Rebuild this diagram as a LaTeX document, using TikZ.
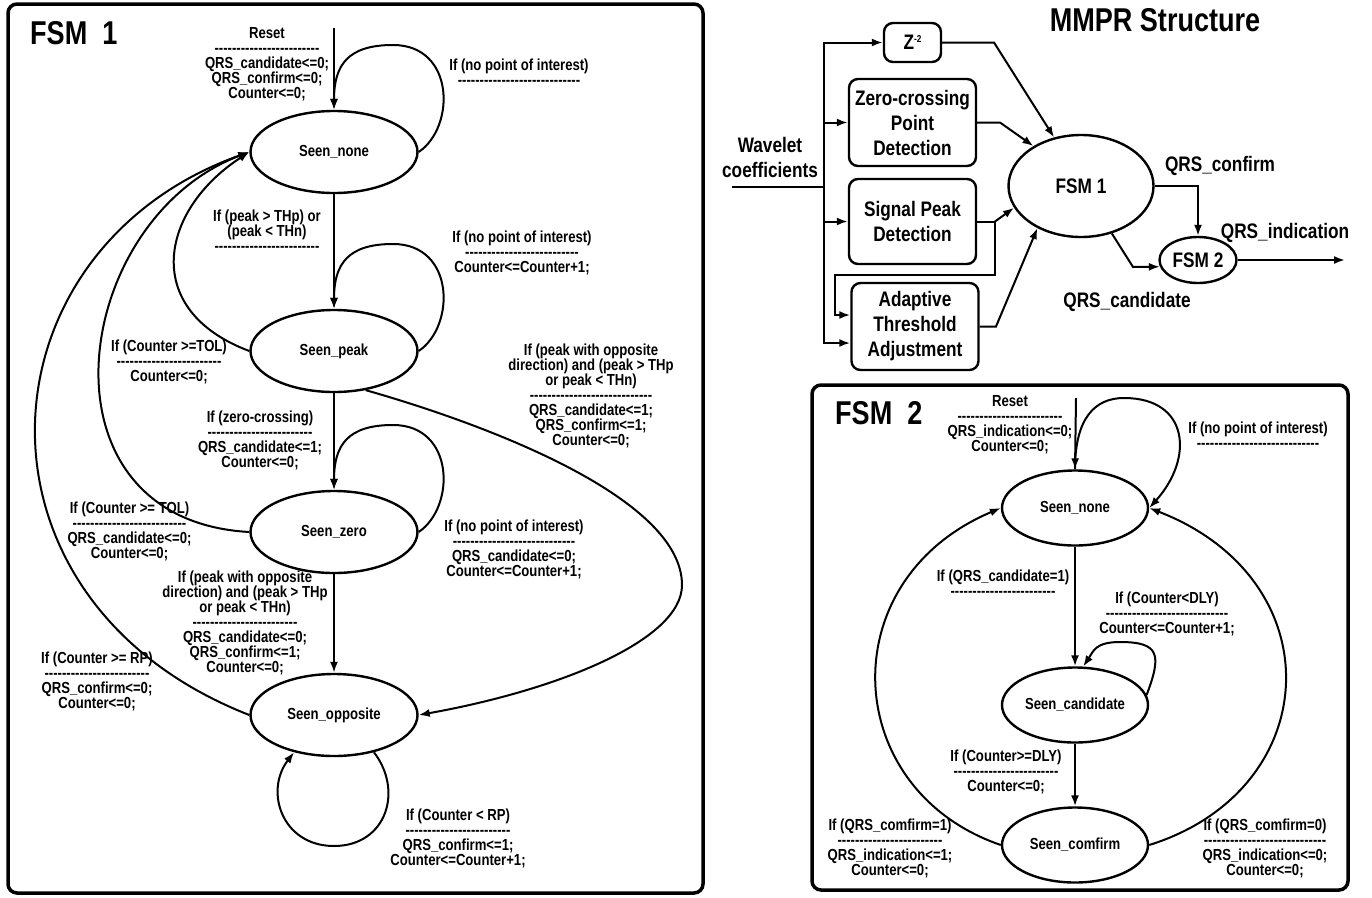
\documentclass[tikz,border=0pt]{standalone}
\usepackage{fontspec}
\setmainfont{Liberation Sans}[FakeStretch=0.82]
\usetikzlibrary{shapes.geometric,arrows.meta}
\newcommand\lblfont{\fontsize{16}{15}\selectfont\bfseries\lineskiplimit=-20pt}
\newcommand\blockfont{\fontsize{21}{25}\selectfont\bfseries\lineskiplimit=-20pt}
\newcommand\titlefont{\fontsize{33}{36}\selectfont\bfseries}
\newcommand\dashes[1]{\foreach \k in {1,...,#1}{-\kern0pt}}
\tikzset{state/.style={ellipse,draw,line width=2.4pt,minimum width=167pt,minimum height=82pt,inner sep=0pt,font=\lblfont},
  sstate/.style={state,minimum width=146pt,minimum height=75pt},
  cond/.style={align=center,inner sep=0pt,font=\lblfont},
  trans/.style={line width=2pt,-{Latex[length=11pt,width=8pt]}},
  wire/.style={line width=2pt},
  block/.style={draw,rounded corners=9pt,line width=2.4pt,align=center,font=\blockfont,inner sep=0pt},
  panel/.style={draw,rounded corners=9pt,line width=3.5pt},
  title/.style={font=\titlefont,anchor=west,inner sep=0pt}}
\begin{document}
\begin{tikzpicture}[x=1pt,y=-1pt]
\useasboundingbox (0,0) rectangle (1372,897);
\draw[panel] (8,4) rectangle (703,893);
\draw[panel] (812,385) rectangle (1348,890);
\node[title] (t1) at (30,33) {FSM\ \ 1};
\node[title] (t2) at (835,413) {FSM\ \ 2};
\node[title,anchor=center] (t3) at (1155,20) {MMPR Structure};
% FSM 1
\node[state] (none1) at (334,152) {Seen\_none};
\node[state] (peak1) at (334,351) {Seen\_peak};
\node[state] (zero1) at (334,532) {Seen\_zero};
\node[state] (opp1) at (334,715) {Seen\_opposite};
\coordinate (rst1) at (334,28);
\draw[trans] (rst1) -- (none1.north);
\foreach \s in {none1,peak1,zero1}
  \draw[trans] (\s.east) .. controls +(37,-25) and +(62,0) .. ([shift={(59,-107)}]\s.center)
    .. controls +(-45,0) and +(0,-45) .. (\s.north);
\draw[trans] (none1) -- (peak1);
\draw[trans] (peak1) -- (zero1);
\draw[trans] (zero1) -- (opp1);
\draw[trans] (peak1.west) .. controls (140,310) and (160,210) .. (none1.west);
\draw[trans] (zero1.west) .. controls (30,520) and (70,220) .. (none1.west);
\draw[trans] (opp1.west) .. controls (-45,600) and (-25,250) .. (none1.west);
\draw[trans] (peak1.-51) .. controls +(130,37) and +(0,-85) .. (682,585)
  .. controls +(0,55) and +(140,-25) .. (opp1.east);
\draw[trans] (opp1.-43) .. controls +(30,39) and +(52,0) .. (334,846)
  .. controls +(-52,0) and +(-30,39) .. (opp1.-137);
\node[cond] (c0) at (267,64.5) {Reset\\\dashes{24}\\QRS\_candidate<=0;\\QRS\_confirm<=0;\\Counter<=0;};
\node[cond] (c1) at (519,72) {If (no point of interest)\\\dashes{28}};
\node[cond] (c2) at (267,231) {If (peak > THp) or\\(peak < THn)\\\dashes{24}};
\node[cond] (c3) at (522,253) {If (no point of interest)\\\dashes{26}\\Counter<=Counter+1;};
\node[cond] (c4) at (169,362) {If (Counter >=TOL)\\\dashes{24}\\Counter<=0;};
\node[cond] (c5) at (260,440.5) {If (zero-crossing)\\\dashes{24}\\QRS\_candidate<=1;\\Counter<=0;};
\node[cond] (c6) at (591,395.5) {If (peak with opposite\\direction) and (peak > THp\\or peak < THn)\\\dashes{28}\\QRS\_candidate<=1;\\QRS\_confirm<=1;\\Counter<=0;};
\node[cond] (c7) at (129.5,531) {If (Counter >= TOL)\\\dashes{26}\\QRS\_candidate<=0;\\Counter<=0;};
\node[cond] (c8) at (514,549) {If (no point of interest)\\\dashes{28}\\QRS\_candidate<=0;\\Counter<=Counter+1;};
\node[cond] (c9) at (245,623) {If (peak with opposite\\direction) and (peak > THp\\or peak < THn)\\\dashes{24}\\QRS\_candidate<=0;\\QRS\_confirm<=1;\\Counter<=0;};
\node[cond] (c10) at (97,681) {If (Counter >= RP)\\\dashes{24}\\QRS\_confirm<=0;\\Counter<=0;};
\node[cond] (c11) at (458,838.5) {If (Counter < RP)\\\dashes{24}\\QRS\_confirm<=1;\\Counter<=Counter+1;};
% MMPR structure
\node[block,minimum width=57pt,minimum height=39pt] (delay) at (912.5,42.5) {Z\raisebox{7pt}{\fontsize{10}{10}\selectfont -2}};
\node[block,minimum width=127pt,minimum height=87pt] (zerodet) at (912.5,122.5) {Zero-crossing\\Point\\Detection};
\node[block,minimum width=127pt,minimum height=85pt] (peakdet) at (912.5,221.5) {Signal Peak\\Detection};
\node[block,minimum width=127pt,minimum height=87pt] (adapt) at (915,326.5) {Adaptive\\Threshold\\Adjustment};
\node[ellipse,draw,line width=2.4pt,minimum width=145pt,minimum height=102pt,inner sep=0pt,font=\blockfont] (fsm1) at (1081,186) {FSM 1};
\node[ellipse,draw,line width=2.4pt,minimum width=77pt,minimum height=46pt,inner sep=0pt,font=\blockfont] (fsm2) at (1198,260) {FSM 2};
\coordinate (win) at (732,187);
\coordinate (bus) at (824,187);
\draw[wire] (win) -- (bus);
\draw[trans] (bus) |- (delay.west);
\draw[trans] (bus) |- (zerodet.west);
\draw[trans] (bus) |- (peakdet.west);
\draw[trans] (bus) |- ([yshift=-16.5pt]adapt.west);
\coordinate (pko) at (995,221.5);
\draw[wire] (peakdet.east) -- (pko);
\draw[trans] (pko) -- (fsm1.198);
\draw[trans] (pko) |- (835,275) |- ([yshift=11.5pt]adapt.west);
\coordinate (dlo) at (994,42.5);
\draw[trans] (delay.east) -- (dlo) -- (fsm1.119);
\coordinate (zco) at (1000,122.5);
\draw[trans] (zerodet.east) -- (zco) -- (fsm1.140);
\coordinate (ado) at (996,326.5);
\draw[trans] (adapt.east) -- (ado) -- (fsm1.224);
\draw[trans] (fsm1.east) -| (fsm2.north);
\coordinate (cbend) at (1133,267);
\draw[trans] (fsm1.-57) -- (cbend) -- (fsm2.190);
\coordinate (qout) at (1345,260);
\draw[trans] (fsm2.east) -- (qout);
\node[font=\blockfont,align=center,inner sep=0pt] (wl) at (770,157.5) {Wavelet\\coefficients};
\node[font=\blockfont,inner sep=0pt] (lconf) at (1220,166) {QRS\_confirm};
\node[font=\blockfont,inner sep=0pt] (lind) at (1285,233) {QRS\_indication};
\node[font=\blockfont,inner sep=0pt] (lcand) at (1127,302) {QRS\_candidate};
% FSM 2
\node[sstate] (none2) at (1075,508) {Seen\_none};
\node[sstate] (cand2) at (1075,705) {Seen\_candidate};
\node[sstate] (conf2) at (1075,845) {Seen\_comfirm};
\coordinate (rst2) at (1076,398);
\draw[trans] (rst2) -- (none2.north);
\draw[trans] (none2.north) .. controls +(0,-50) and +(-30,0) .. (1124,398)
  .. controls +(65,0) and +(45,-50) .. (none2.east);
\draw[trans] (none2) -- (cand2);
\draw[trans] (cand2.8) .. controls +(15,-40) and +(40,0) .. (1120,642)
  .. controls +(-25,0) and +(10,-15) .. (cand2.78);
\draw[trans] (cand2) -- (conf2);
\draw[trans] (conf2.west) .. controls (840,790) and (830,580) .. (none2.west);
\draw[trans] (conf2.east) .. controls (1325,790) and (1335,580) .. (none2.east);
\node[cond] (d0) at (1010,425) {Reset\\\dashes{24}\\QRS\_indication<=0;\\Counter<=0;};
\node[cond] (d1) at (1258,435.5) {If (no point of interest)\\\dashes{28}};
\node[cond] (d2) at (1003,583.5) {If (QRS\_candidate=1)\\\dashes{24}};
\node[cond] (d3) at (1167,614) {If (Counter<DLY)\\\dashes{28}\\Counter<=Counter+1;};
\node[cond] (d4) at (1006,771.5) {If (Counter>=DLY)\\\dashes{24}\\Counter<=0;};
\node[cond] (d5) at (890,848) {If (QRS\_comfirm=1)\\\dashes{24}\\QRS\_indication<=1;\\Counter<=0;};
\node[cond] (d6) at (1265,848) {If (QRS\_comfirm=0)\\\dashes{28}\\QRS\_indication<=0;\\Counter<=0;};
\end{tikzpicture}
\end{document}
